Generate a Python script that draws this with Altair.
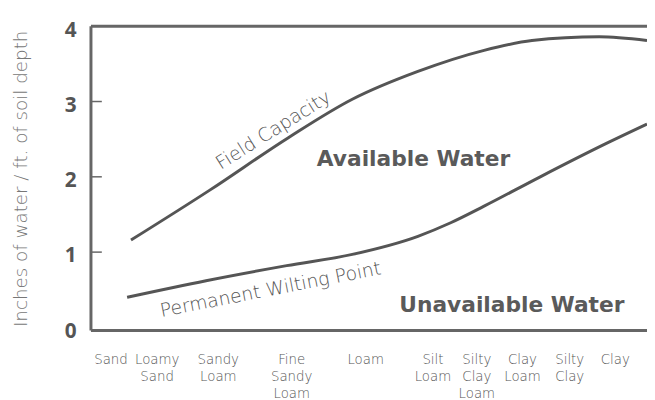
import altair as alt
import pandas as pd

# Soil texture categories along the x axis (position in % of plot width)
categories = ["Sand", "Loamy\nSand", "Sandy\nLoam", "Fine\nSandy\nLoam", "Loam",
              "Silt\nLoam", "Silty\nClay\nLoam", "Clay\nLoam", "Silty\nClay", "Clay"]
cat_pos = [3.6, 11.9, 22.9, 36.1, 49.4, 61.5, 69.4, 77.6, 86.1, 94.3]

# Field capacity curve
fc_x = [7.2, 21.3, 35.5, 47.0, 58.8, 70.7, 79.3, 91.4, 100.0]
fc_y = [1.16, 1.82, 2.52, 3.03, 3.40, 3.68, 3.81, 3.86, 3.81]

# Permanent wilting point curve
pwp_x = [6.5, 20.7, 35.2, 47.0, 58.8, 64.7, 70.7, 80.8, 92.6, 100.0]
pwp_y = [0.40, 0.62, 0.82, 0.97, 1.21, 1.39, 1.61, 2.00, 2.44, 2.70]

# Annotations
ann_text = ["Available Water", "Unavailable Water"]
ann_x = [58.0, 75.7]
ann_y = [2.24, 0.30]

curve_labels = ["Field Capacity", "Permanent Wilting Point"]
curve_lab_x = [32.8, 32.3]
curve_lab_y = [2.62, 0.50]
curve_lab_angle = [328, 349]

y_ticks = [0, 1, 2, 3, 4]
inner_ticks = [1, 2, 3]

FONT = "Open Sans"
LIGHT_FONT = "DejaVu Sans"
DARK = "#555555"

xs = alt.Scale(domain=[0, 100], nice=False, zero=False)
ys = alt.Scale(domain=[-0.04, 4], nice=False, zero=False)

Y_AXIS = alt.Axis(values=y_ticks, ticks=False, domain=False, grid=False,
                  labelFont=FONT, labelFontSize=21, labelFontWeight="bold",
                  labelColor=DARK, labelPadding=15, labelOffset=4,
                  title="Inches of water / ft. of soil depth",
                  titleFont=LIGHT_FONT, titleFontSize=18.5, titleFontWeight=200,
                  titleColor="#777777", titlePadding=34)


def X(field="x"):
    return alt.X(f"{field}:Q", scale=xs, axis=None)


def Y(field="y"):
    return alt.Y(f"{field}:Q", scale=ys, axis=Y_AXIS, title="Inches of water / ft. of soil depth")


curves = pd.DataFrame({
    "x": fc_x + pwp_x,
    "y": fc_y + pwp_y,
    "curve": ["fc"] * len(fc_x) + ["pwp"] * len(pwp_x),
})

lines = alt.Chart(curves).mark_line(interpolate="monotone", color=DARK, strokeWidth=3).encode(
    x=X(), y=Y(), detail="curve:N")

frame_h = alt.Chart(pd.DataFrame({"y": [4, -0.04]})).mark_rule(color="#666666", strokeWidth=3).encode(
    y=Y(), x=alt.value(0), x2=alt.value(563))

frame_v = alt.Chart(pd.DataFrame({"x": [0]})).mark_rule(color="#666666", strokeWidth=3).encode(
    x=X(), y=alt.value(0), y2=alt.value(308))

ticks = alt.Chart(pd.DataFrame({"y": inner_ticks})).mark_rule(color="#666666", strokeWidth=1.5).encode(
    y=Y(), x=alt.value(0), x2=alt.value(11))

xlab = alt.Chart(pd.DataFrame({"lab": categories, "x": cat_pos})).mark_text(
    font=LIGHT_FONT, fontSize=13.5, fontWeight=200, color="#555555", baseline="top",
    lineBreak="\n", lineHeight=17
).encode(x=X(), y=alt.value(331), text="lab:N")

ann = alt.Chart(pd.DataFrame({"t": ann_text, "x": ann_x, "y": ann_y})).mark_text(
    font=LIGHT_FONT, fontSize=22, fontWeight="bold", color="#5a5a5a"
).encode(x=X(), y=Y(), text="t:N")

clab = alt.Chart(pd.DataFrame({"t": curve_labels, "x": curve_lab_x, "y": curve_lab_y,
                               "a": curve_lab_angle})).mark_text(
    font=LIGHT_FONT, fontSize=19, fontWeight=200, color="#555555"
).encode(x=X(), y=Y(), text="t:N", angle=alt.Angle("a:Q", scale=None))

chart = alt.layer(frame_h, frame_v, ticks, lines, xlab, ann, clab).properties(
    width=563, height=308,
    autosize=alt.AutoSizeParams(type="none"),
    padding={"left": 84, "top": 16, "right": 0, "bottom": 68},
).configure_view(strokeWidth=0)

chart.save("out.html", embed_options={"renderer": "svg", "actions": False})
